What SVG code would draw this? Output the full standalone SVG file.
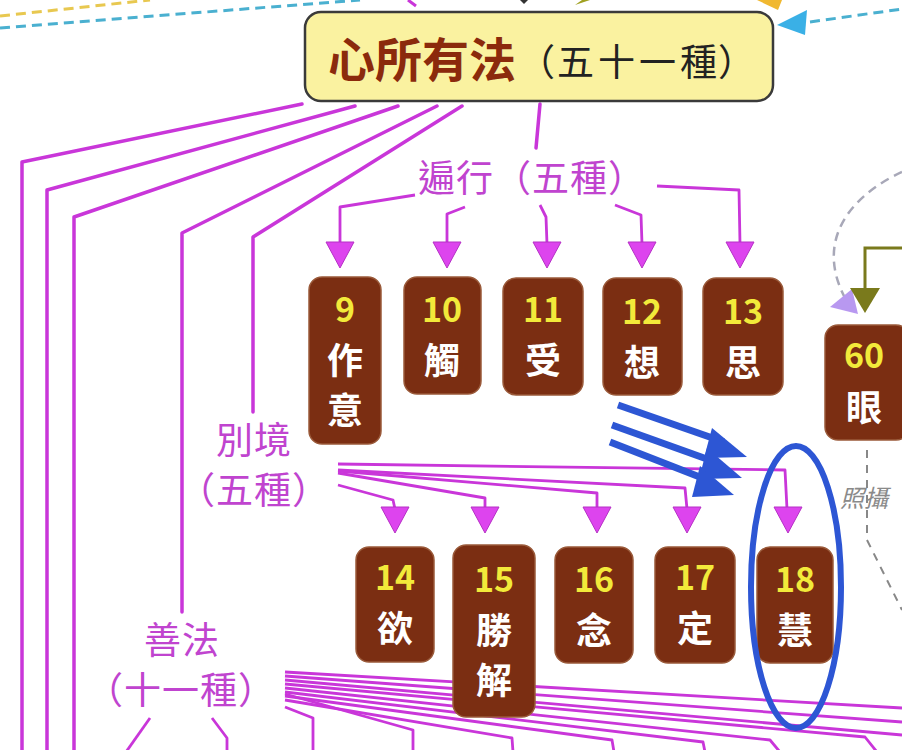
<svg xmlns="http://www.w3.org/2000/svg" xmlns:xlink="http://www.w3.org/1999/xlink" width="902" height="750" viewBox="0 0 902 750">
<style>
.ln{fill:none;stroke:#c936d9;stroke-width:3.5;stroke-linejoin:round;stroke-linecap:round}
.fn{fill:none;stroke:#c936d9;stroke-width:2.8;stroke-linejoin:round}
.lbl{font-family:"Noto Sans CJK TC","Noto Sans CJK SC",sans-serif;fill:#c044cf;font-size:37px;letter-spacing:1px}
.box{fill:#7b2e12;stroke:#9a5a3a;stroke-width:1.5}
.num{font-family:"Noto Sans CJK TC","Noto Sans",sans-serif;font-weight:bold;fill:#f2ea3a;font-size:34px;text-anchor:middle}
.chr{font-family:"Noto Sans CJK TC","Noto Sans CJK SC",sans-serif;font-weight:bold;fill:#ffffff;font-size:36px;text-anchor:middle}
.ah{fill:#dd44ee;stroke:#b530c5;stroke-width:1}
.blue{fill:none;stroke:#2d56d4;stroke-width:7}
.bluefill{fill:#2d56d4}
.mt{font-family:"Noto Sans CJK TC","Noto Sans CJK SC",sans-serif;font-size:37px;fill:#222}
</style>
<defs>
<path id="ah" d="M-14,0 L14,0 L0,26 Z"/>
</defs>
<rect width="902" height="750" fill="#ffffff"/>

<g id="top-dashes">
<line x1="0" y1="16" x2="150" y2="0" stroke="#e8c850" stroke-width="3" stroke-dasharray="10,6"/>
<line x1="0" y1="28" x2="360" y2="0" stroke="#4ab0d0" stroke-width="3" stroke-dasharray="10,6"/>
<line x1="810" y1="22" x2="902" y2="9" stroke="#4ab0d0" stroke-width="3" stroke-dasharray="10,6"/>
<polygon points="777,25 807,10 805,35" fill="#3ab0e6"/>
<polygon points="757,0 782,0 778,10" fill="#f0b830"/>
<line x1="408" y1="0" x2="416" y2="6" stroke="#c936d9" stroke-width="3"/>
<polygon points="520,0 528,0 524,4" fill="#333"/>
<polygon points="575,5 590,0 582,0" fill="#a0a020"/>
</g>

<g id="connectors">
<polyline class="ln" points="302,104 22,162 22,752"/>
<polyline class="ln" points="355,106 47,190 47,752"/>
<polyline class="ln" points="398,106 74,217 74,752"/>
<polyline class="ln" points="437,106 182,233 182,612"/>
<polyline class="ln" points="462,106 253,237 253,412"/>
<line class="ln" x1="540" y1="104" x2="536" y2="148" stroke-width="4.5"/>

<polyline class="fn" points="415,195 340,207 340,244"/>
<polyline class="fn" points="465,207 447,214 447,244"/>
<polyline class="fn" points="540,205 546,217 547,244"/>
<polyline class="fn" points="615,205 641,215 642,244"/>
<polyline class="fn" points="657,186 739,190 740,244"/>
<use href="#ah" class="ah" x="340" y="242"/>
<use href="#ah" class="ah" x="447" y="242"/>
<use href="#ah" class="ah" x="547" y="242"/>
<use href="#ah" class="ah" x="642" y="242"/>
<use href="#ah" class="ah" x="740" y="242"/>

<polyline class="fn" points="338,464 785,470 787,509"/>
<polyline class="fn" points="338,470 685,488 687,509"/>
<polyline class="fn" points="338,471 597,493 597,509"/>
<polyline class="fn" points="338,473 485,498 485,509"/>
<polyline class="fn" points="338,485 393,500 395,509"/>
<use href="#ah" class="ah" x="395" y="507"/>
<use href="#ah" class="ah" x="485" y="507"/>
<use href="#ah" class="ah" x="597" y="507"/>
<use href="#ah" class="ah" x="687" y="507"/>
<use href="#ah" class="ah" x="788" y="507"/>

<polyline class="fn" points="285,672 902,708"/>
<polyline class="fn" points="285,676 902,722"/>
<polyline class="fn" points="285,680 902,735"/>
<polyline class="fn" points="285,684 865,737 877,752"/>
<polyline class="fn" points="285,688 770,740 780,752"/>
<polyline class="fn" points="285,692 703,742 705,752"/>
<polyline class="fn" points="285,696 612,740 614,752"/>
<polyline class="fn" points="285,700 512,738 513,752"/>
<polyline class="fn" points="285,694 413,730 413,752"/>
<polyline class="fn" points="285,707 313,718 313,752"/>
<polyline class="fn" points="150,718 126,752"/>
<polyline class="fn" points="212,718 227,738 227,752"/>

<path d="M902,172 C858,192 812,235 845,298" fill="none" stroke="#a8a8b8" stroke-width="2.5" stroke-dasharray="9,6"/>
<polygon points="830,307 852,289 858,314" fill="#b898f0"/>
<polyline points="902,248 865,248 865,290" fill="none" stroke="#7a7a1c" stroke-width="3"/>
<polygon points="850,288 880,288 865,313" fill="#7a7a1c"/>
<polyline points="867,450 867,540 902,610" fill="none" stroke="#888" stroke-width="2" stroke-dasharray="8,7"/>
</g>

<g id="node-main">
<rect x="305" y="12" width="468" height="89" rx="16" fill="#faf2a0" stroke="#3a3a3a" stroke-width="2.5"/>
<text x="328" y="77" font-family="'Noto Sans CJK TC','Noto Sans CJK SC',sans-serif" font-weight="bold" font-size="47" fill="#8b2a0c">心所有法</text>
<text class="mt" x="518" y="76">（</text>
<text class="mt" x="557" y="76" letter-spacing="4">五十一種</text>
<text class="mt" x="718" y="76">）</text>
</g>

<g id="label-bianxing"><text class="lbl" x="418" y="192">遍行（五種）</text></g>
<g id="label-biejing"><text class="lbl" x="216" y="454">別境</text><text class="lbl" x="178" y="504">（五種）</text></g>
<g id="label-shanfa"><text class="lbl" x="144" y="654">善法</text><text class="lbl" x="86" y="704">（十一種）</text></g>

<g id="node-9"><rect class="box" x="309" y="277" width="72" height="167" rx="13"/><text class="num" x="345" y="322">9</text><text class="chr" x="345" y="374">作</text><text class="chr" x="345" y="424">意</text></g>
<g id="node-10"><rect class="box" x="404" y="277" width="77" height="117" rx="13"/><text class="num" x="442" y="322">10</text><text class="chr" x="442" y="374">觸</text></g>
<g id="node-11"><rect class="box" x="503" y="278" width="80" height="117" rx="13"/><text class="num" x="543" y="322">11</text><text class="chr" x="543" y="374">受</text></g>
<g id="node-12"><rect class="box" x="603" y="278" width="79" height="117" rx="13"/><text class="num" x="642" y="324">12</text><text class="chr" x="642" y="376">想</text></g>
<g id="node-13"><rect class="box" x="703" y="278" width="80" height="117" rx="13"/><text class="num" x="743" y="324">13</text><text class="chr" x="743" y="376">思</text></g>
<g id="node-60"><rect class="box" x="825" y="325" width="84" height="115" rx="13"/><text class="num" x="864" y="368">60</text><text class="chr" x="864" y="421">眼</text></g>

<g id="node-14"><rect class="box" x="356" y="547" width="78" height="115" rx="13"/><text class="num" x="395" y="590">14</text><text class="chr" x="395" y="642">欲</text></g>
<g id="node-15"><rect class="box" x="453" y="545" width="82" height="172" rx="13"/><text class="num" x="494" y="592">15</text><text class="chr" x="494" y="644">勝</text><text class="chr" x="494" y="694">解</text></g>
<g id="node-16"><rect class="box" x="555" y="547" width="78" height="116" rx="13"/><text class="num" x="594" y="592">16</text><text class="chr" x="594" y="644">念</text></g>
<g id="node-17"><rect class="box" x="655" y="547" width="80" height="116" rx="13"/><text class="num" x="695" y="590">17</text><text class="chr" x="695" y="642">定</text></g>
<g id="node-18"><rect class="box" x="757" y="547" width="76" height="116" rx="13"/><text class="num" x="795" y="592">18</text><text class="chr" x="795" y="644">慧</text></g>

<text x="840" y="507" font-family="'Noto Sans CJK TC','Noto Sans CJK SC',sans-serif" font-style="italic" font-size="24" fill="#8a8a8a">照攝</text>

<g id="annotation">
<line class="blue" x1="618" y1="405" x2="724" y2="442"/>
<polygon class="bluefill" points="712,428 747,457 704,458"/>
<line class="blue" x1="612" y1="425" x2="718" y2="463"/>
<polygon class="bluefill" points="707,448 742,478 699,479"/>
<line class="blue" x1="610" y1="442" x2="710" y2="481"/>
<polygon class="bluefill" points="700,466 734,495 692,497"/>
<ellipse cx="796" cy="587" rx="45" ry="141" fill="none" stroke="#2d56d4" stroke-width="6"/>
</g>
</svg>
